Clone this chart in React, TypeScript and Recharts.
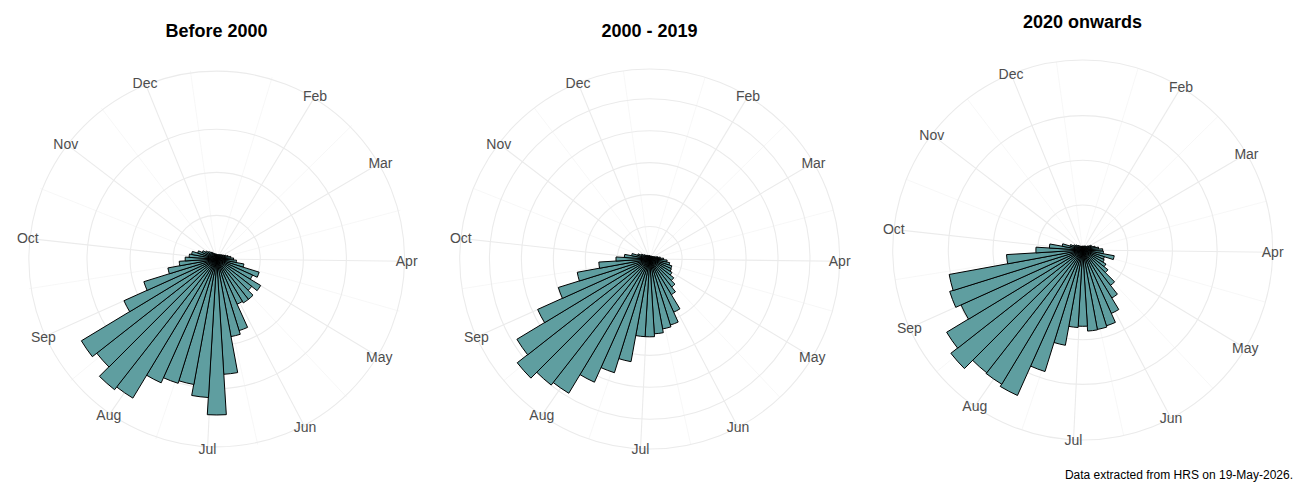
import React from "react";
import {
  RadialBarChart,
  RadialBar,
  PolarAngleAxis,
  PolarRadiusAxis,
  PolarGrid,
} from "recharts";

const WEEKS = Array.from({ length: 52 }, (_, i) => i + 1);

const BEFORE_2000 = [
  1.0, 0.9, 0.9, 1.0, 1.0, 1.1, 1.2, 1.3, 1.5, 1.7,
  2.1, 2.6, 3.2, 3.8, 4.5, 6.3, 10.2, 9.0, 11.8, 10.2,
  11.8, 11.8, 11.4, 17.3, 18.2, 26.7, 36.1, 32.1, 29.5, 30.1,
  31.4, 37.6, 38.4, 35.3, 36.6, 23.5, 17.6, 11.4, 8.6, 7.2,
  6.3, 5.8, 4.5, 3.6, 2.9, 2.4, 2.0, 1.7, 1.4, 1.2,
  1.1, 1.0,
];

const FROM_2000_TO_2019 = [
  0.9, 0.8, 0.8, 0.8, 0.9, 0.9, 1.0, 1.0, 1.1, 1.3,
  1.7, 2.4, 3.2, 4.2, 5.3, 6.2, 7.1, 7.3, 8.0, 9.4,
  11.0, 12.9, 18.1, 21.5, 22.1, 23.3, 24.2, 24.2, 32.5, 37.1,
  42.1, 48.9, 49.9, 52.5, 48.4, 38.3, 29.8, 22.9, 15.8, 10.4,
  7.8, 5.6, 3.8, 2.8, 2.1, 1.7, 1.4, 1.2, 1.0, 0.9,
  0.9, 0.9,
];

const FROM_2020 = [
  0.8, 0.8, 0.8, 0.9, 0.9, 1.0, 1.0, 1.2, 1.5, 2.0,
  2.2, 2.8, 3.5, 4.4, 4.6, 7.1, 5.0, 5.2, 6.0, 7.1,
  10.0, 12.5, 15.5, 17.7, 18.0, 18.1, 17.0, 17.3, 21.6, 28.4,
  35.6, 35.0, 34.8, 37.4, 35.5, 29.8, 31.1, 30.3, 17.0, 10.4,
  7.4, 4.6, 2.9, 2.2, 1.8, 1.5, 1.3, 1.0, 0.9, 0.8,
  0.8, 0.8,
];

// month starts, in weeks counted from 1 January (Jan itself falls outside the scale)
const MONTHS = ["Feb", "Mar", "Apr", "May", "Jun", "Jul", "Aug", "Sep", "Oct", "Nov", "Dec"];
const MONTH_WEEK = [4.5, 8.6, 13.1, 17.5, 22.0, 26.4, 31.0, 35.5, 39.9, 44.4, 48.8];

// minor spokes half way between months, plus one before the first and after the last
const step = (MONTH_WEEK[1] - MONTH_WEEK[0]) / 2;
const MINOR_WEEK = [
  MONTH_WEEK[0] - step,
  ...MONTH_WEEK.slice(1).map((w, i) => (w + MONTH_WEEK[i]) / 2),
  MONTH_WEEK[MONTH_WEEK.length - 1] + step,
];

const FONT = '"Liberation Sans", Arial, sans-serif';
const HALF_BAND = 180 / WEEKS.length;
const OUTER = 190;

// labels sit centred on the outer ring, like ggplot's coord_polar
const MonthTick = (props: any) => {
  const { x, y, cx, cy, radius, payload } = props;
  let tx = x;
  let ty = y;
  if (typeof cx === "number" && typeof cy === "number" && radius) {
    const d = Math.hypot(x - cx, y - cy);
    if (d > 0) {
      tx = cx + ((x - cx) * radius) / d;
      ty = cy + ((y - cy) * radius) / d;
    }
  }
  const label = MONTHS[MONTH_WEEK.indexOf(payload.value)];
  return (
    <text
      x={tx}
      y={ty}
      textAnchor="middle"
      dominantBaseline="central"
      fill="#4d4d4d"
      fontSize={14}
      fontFamily={FONT}
    >
      {label}
    </text>
  );
};

type RoseProps = {
  title: string;
  values: number[];
  rDomain: [number, number];
  rTicks: number[];
  left: number;
  cy: number;
};

function Rose({ title, values, rDomain, rTicks, left, cy }: RoseProps) {
  const data = WEEKS.map((week, i) => ({ week, value: values[i] }));
  return (
    <div style={{ position: "absolute", left, top: 0, width: 433, height: 500 }}>
      <div
        style={{
          position: "absolute",
          left: 0,
          width: 433,
          top: cy - 238,
          textAlign: "center",
          fontFamily: FONT,
          fontWeight: 700,
          fontSize: 18,
          lineHeight: "20px",
          color: "#000",
        }}
      >
        {title}
      </div>
      <RadialBarChart
        width={433}
        height={500}
        data={data}
        layout="centric"
        cx={216.7}
        cy={cy}
        innerRadius={0}
        outerRadius={OUTER}
        startAngle={90 - HALF_BAND}
        endAngle={90 - HALF_BAND - 360}
        barCategoryGap={0}
        barGap={0}
        margin={{ top: 0, right: 0, bottom: 0, left: 0 }}
      >
        <PolarAngleAxis
          angleAxisId="week"
          type="category"
          dataKey="week"
          tick={false}
          tickLine={false}
          axisLine={false}
        />
        <PolarAngleAxis
          angleAxisId="month"
          type="number"
          dataKey="week"
          domain={[0.5, 52.5]}
          allowDataOverflow
          ticks={MONTH_WEEK}
          tick={<MonthTick />}
          tickLine={false}
          axisLine={false}
        />
        <PolarAngleAxis
          angleAxisId="minor"
          type="number"
          dataKey="week"
          domain={[0.5, 52.5]}
          allowDataOverflow
          ticks={MINOR_WEEK}
          tick={false}
          tickLine={false}
          axisLine={false}
        />
        <PolarRadiusAxis
          radiusAxisId="r"
          type="number"
          domain={rDomain}
          allowDataOverflow
          ticks={rTicks}
          tick={false}
          axisLine={false}
        />
        <PolarGrid
          angleAxisId="minor"
          radiusAxisId="r"
          gridType="circle"
          polarRadius={[]}
          stroke="#f2f2f2"
          strokeWidth={0.6}
        />
        <PolarGrid
          angleAxisId="month"
          radiusAxisId="r"
          gridType="circle"
          stroke="#ebebeb"
          strokeWidth={1.1}
        />
        <RadialBar
          angleAxisId="week"
          radiusAxisId="r"
          dataKey="value"
          fill="#5f9ea0"
          stroke="#000"
          strokeWidth={1}
          isAnimationActive={false}
        />
      </RadialBarChart>
    </div>
  );
}

export default function App() {
  return (
    <div
      style={{
        position: "fixed",
        left: 0,
        top: 0,
        width: 1300,
        height: 500,
        background: "#fff",
        overflow: "hidden",
      }}
    >
      <Rose
        title="Before 2000"
        values={BEFORE_2000}
        rDomain={[-0.12, 43.5]}
        rTicks={[10, 20, 30, 43.5]}
        left={0}
        cy={259}
      />
      <Rose
        title="2000 - 2019"
        values={FROM_2000_TO_2019}
        rDomain={[-0.15, 59.3]}
        rTicks={[10, 20, 30, 40, 50, 59.3]}
        left={433}
        cy={259}
      />
      <Rose
        title="2020 onwards"
        values={FROM_2020}
        rDomain={[-0.07, 42.44]}
        rTicks={[10, 20, 30, 42.44]}
        left={866}
        cy={250}
      />
      <div
        style={{
          position: "absolute",
          right: 7,
          top: 468,
          fontFamily: FONT,
          fontSize: 12,
          lineHeight: "14px",
          color: "#000",
        }}
      >
        Data extracted from HRS on 19-May-2026.
      </div>
    </div>
  );
}
